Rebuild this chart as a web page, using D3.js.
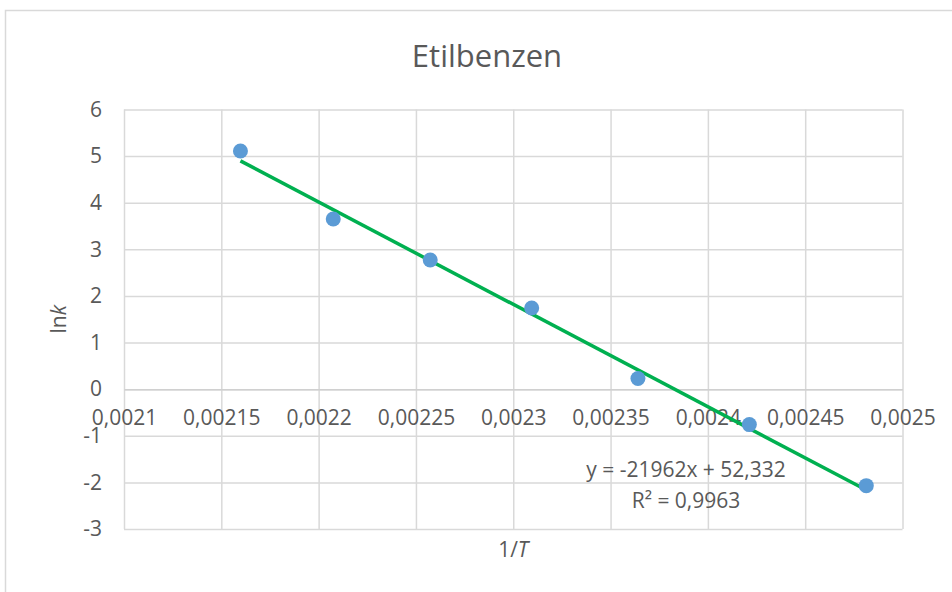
<!DOCTYPE html>
<html>
<head>
<meta charset="utf-8">
<script src="https://cdn.jsdelivr.net/npm/d3@7"></script>
<style>
  body { margin: 0; background: #fff; }
  svg { display: block; }
  text { font-family: "Open Sans", "Noto Sans", sans-serif; fill: #595959; }
</style>
</head>
<body>
<svg id="chart" width="952" height="592"></svg>
<script>
// Arrhenius data for ethylbenzene: 1/T (1/K) against ln k
const invT = [0.00215983, 0.00220751, 0.00225734, 0.00230947, 0.00236407, 0.00242131, 0.00248139];
const lnk  = [5.11, 3.65, 2.77, 1.74, 0.23, -0.76, -2.07];

const xTicks      = [0.0021, 0.00215, 0.0022, 0.00225, 0.0023, 0.00235, 0.0024, 0.00245, 0.0025];
const xTickLabels = ["0,0021", "0,00215", "0,0022", "0,00225", "0,0023", "0,00235", "0,0024", "0,00245", "0,0025"];
const yTicks      = [-3, -2, -1, 0, 1, 2, 3, 4, 5, 6];
const yTickLabels = ["-3", "-2", "-1", "0", "1", "2", "3", "4", "5", "6"];

// Linear trendline and its label
const fitSlope = -21962;
const fitIntercept = 52.332;
const fitLabel = "y = -21962x + 52,332";
const r2Label = "R² = 0,9963";

const chartTitle = "Etilbenzen";

const svg = d3.select("#chart");
const W = 952, H = 592;
const plot = { left: 124, right: 902.5, top: 109.5, bottom: 529 };
const labelSize = 21;

// Chart frame
svg.append("rect")
  .attr("x", 5.5).attr("y", 10.5)
  .attr("width", W + 20).attr("height", H + 20)
  .attr("fill", "#fff").attr("stroke", "#D9D9D9").attr("stroke-width", 1.5);

const x = d3.scaleLinear().domain([0.0021, 0.0025]).range([plot.left, plot.right]);
const y = d3.scaleLinear().domain([-3, 6]).range([plot.bottom, plot.top]);

// Horizontal gridlines with value labels
const gy = svg.append("g")
  .attr("transform", `translate(${plot.left},0)`)
  .call(d3.axisLeft(y)
    .tickValues(yTicks)
    .tickSize(-(plot.right - plot.left))
    .tickPadding(22)
    .tickFormat((d, i) => yTickLabels[i]));
gy.select(".domain").remove();
gy.selectAll("line").attr("stroke", "#D9D9D9").attr("stroke-width", 1.5);
gy.selectAll("text").attr("font-size", labelSize).attr("fill", "#595959")
  .style("font-family", '"Open Sans", sans-serif');

// Vertical gridlines
const gxGrid = svg.append("g")
  .attr("transform", `translate(0,${plot.top})`)
  .call(d3.axisBottom(x)
    .tickValues(xTicks)
    .tickSize(plot.bottom - plot.top)
    .tickFormat(""));
gxGrid.select(".domain").remove();
gxGrid.selectAll("line").attr("stroke", "#D9D9D9").attr("stroke-width", 1.5);

// Horizontal axis crossing at ln k = 0, labels just below it
const gx = svg.append("g")
  .attr("transform", `translate(0,${y(0)})`)
  .call(d3.axisBottom(x)
    .tickValues(xTicks)
    .tickSize(0)
    .tickPadding(21)
    .tickFormat((d, i) => xTickLabels[i]));
gx.select(".domain").attr("stroke", "#D0D0D0").attr("stroke-width", 1.5);
gx.selectAll("text").attr("font-size", labelSize).attr("fill", "#595959")
  .style("font-family", '"Open Sans", sans-serif');

// Trendline from the fitted equation
const x0 = d3.min(invT), x1 = d3.max(invT);
svg.append("line")
  .attr("x1", x(x0)).attr("y1", y(fitSlope * x0 + fitIntercept))
  .attr("x2", x(x1)).attr("y2", y(fitSlope * x1 + fitIntercept))
  .attr("stroke", "#00B050").attr("stroke-width", 3.5).attr("stroke-linecap", "butt");

// Data points
svg.append("g").selectAll("circle")
  .data(invT.map((v, i) => ({ x: v, y: lnk[i] })))
  .join("circle")
  .attr("cx", d => x(d.x))
  .attr("cy", d => y(d.y))
  .attr("r", 7.5)
  .attr("fill", "#5B9BD5");

// Trendline equation
svg.append("text")
  .attr("x", 686).attr("y", 477)
  .attr("text-anchor", "middle")
  .attr("font-size", labelSize)
  .text(fitLabel);
svg.append("text")
  .attr("x", 686).attr("y", 508)
  .attr("text-anchor", "middle")
  .attr("font-size", labelSize)
  .text(r2Label);

// Title
svg.append("text")
  .attr("x", 487).attr("y", 67)
  .attr("text-anchor", "middle")
  .attr("font-size", 31)
  .text(chartTitle);

// Axis titles
const xt = svg.append("text")
  .attr("x", (plot.left + plot.right) / 2).attr("y", 557)
  .attr("text-anchor", "middle")
  .attr("font-size", 21);
xt.append("tspan").text("1/");
xt.append("tspan").attr("font-style", "italic").text("T");

const yt = svg.append("text")
  .attr("transform", `translate(66,${(plot.top + plot.bottom) / 2}) rotate(-90)`)
  .attr("text-anchor", "middle")
  .attr("font-size", 21);
yt.append("tspan").text("ln");
yt.append("tspan").attr("font-style", "italic").text("k");
</script>
</body>
</html>
